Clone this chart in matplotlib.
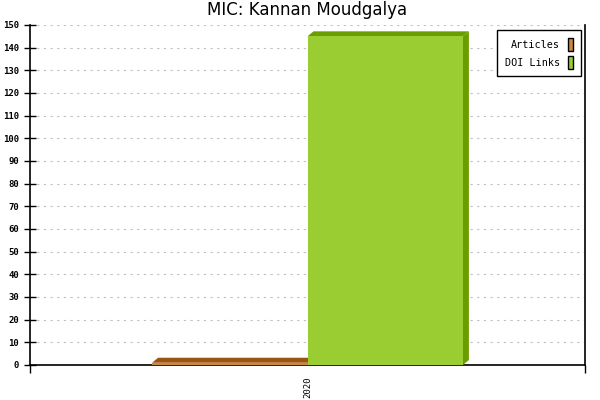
import matplotlib
matplotlib.use('Agg')
import matplotlib.pyplot as plt
from matplotlib.patches import Polygon, Patch

title = 'MIC: Kannan Moudgalya'
categories = ['2020']
series_names = ['Articles', 'DOI Links']
series_values = [[1], [145]]
front_colors = ['#cd853f', '#9acd32']
dark_colors = ['#9c5410', '#6a9e00']

fig = plt.figure(figsize=(6, 4), dpi=100)
ax = fig.add_axes([0.05, 0.0875, 0.925, 0.85])
ax.set_xlim(-0.5, len(categories) - 0.5)
ax.set_ylim(0, 150)

bar_w = 0.28
# depth of the fake 3d effect, in pixels -> data units
px_x = (ax.get_xlim()[1] - ax.get_xlim()[0]) / (0.925 * 600)
px_y = (ax.get_ylim()[1] - ax.get_ylim()[0]) / (0.85 * 400)
dx, dy = 6 * px_x, 5 * px_y

for i, name in enumerate(series_names):
    for j, v in enumerate(series_values[i]):
        x0 = j - bar_w * len(series_names) / 2 + i * bar_w
        x1 = x0 + bar_w
        top = Polygon([(x0, v), (x1, v), (x1 + dx, v + dy), (x0 + dx, v + dy)],
                      closed=True, facecolor=dark_colors[i], edgecolor='none',
                      zorder=3 + i, clip_on=False)
        side = Polygon([(x1, 0), (x1 + dx, dy), (x1 + dx, v + dy), (x1, v)],
                       closed=True, facecolor=dark_colors[i], edgecolor='none',
                       zorder=3 + i, clip_on=False)
        ax.add_patch(top)
        ax.add_patch(side)
        ax.bar(x0, v, width=bar_w, align='edge', color=front_colors[i],
               zorder=3 + i)

ax.yaxis.grid(True, linestyle=(0, (2, 4)), color='#c0c0c0', linewidth=0.8)
ax.set_axisbelow(True)
ax.set_yticks(range(0, 151, 10))
ax.tick_params(axis='y', direction='inout', length=8, width=1, pad=4,
               labelsize=6.5)
for lbl in ax.get_yticklabels():
    lbl.set_family('DejaVu Sans Mono')
    lbl.set_fontweight('bold')

ax.set_xticks(range(len(categories)))
ax.set_xticklabels(categories, rotation=90, family='DejaVu Sans Mono',
                   fontsize=6.5)
ax.tick_params(axis='x', length=0, pad=8)
ax.set_xticks([-0.5, 0.5], minor=True)
ax.tick_params(axis='x', which='minor', direction='out', length=6, width=1)

ax.spines['top'].set_visible(False)
for s in ['left', 'right', 'bottom']:
    ax.spines[s].set_linewidth(1.2)

ax.set_title(title, fontsize=12, pad=7)

handles = [Patch(facecolor=c, edgecolor='black', linewidth=1) for c in front_colors]
leg = ax.legend(handles, series_names, loc='upper right', markerfirst=False,
                prop={'family': 'DejaVu Sans Mono', 'size': 7.3},
                fancybox=False, framealpha=1, edgecolor='black',
                handlelength=0.55, handleheight=1.6, handletextpad=0.8,
                labelspacing=0.5, borderpad=0.75, borderaxespad=0,
                bbox_to_anchor=(0.9928, 0.985))
leg.get_frame().set_linewidth(1)
for t in leg.get_texts():
    t.set_ha('right')

fig.savefig('out.png', dpi=100)
